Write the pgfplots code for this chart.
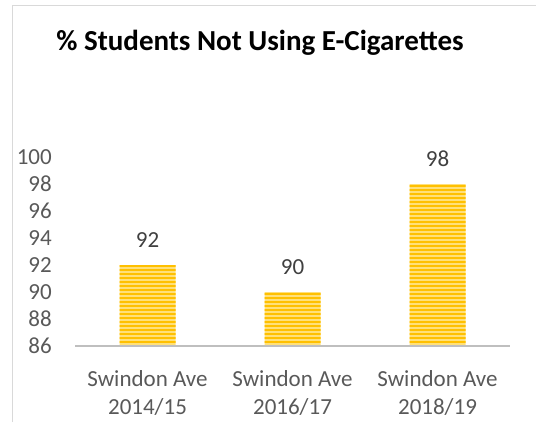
\documentclass[border=0pt]{standalone}
\usepackage{pgfplots}
\pgfplotsset{compat=1.18}
\usepackage{fontspec}
\setmainfont{Carlito}
\usetikzlibrary{patterns.meta}
\definecolor{barY}{HTML}{FFC000}
\definecolor{barL}{HTML}{FFE07A}
\definecolor{axgray}{HTML}{BFBFBF}
\definecolor{txtgray}{HTML}{595959}
\definecolor{lblgray}{HTML}{404040}
\definecolor{framegray}{HTML}{D9D9D9}
\begin{document}
\begin{tikzpicture}[x=1bp,y=1bp]
\path[use as bounding box] (0,0) rectangle (536,422);
\draw[framegray, line width=1.2bp] (12.5,0) -- (12.5,416.5) -- (540,416.5);
\node[anchor=base, font=\fontsize{29bp}{34bp}\selectfont\bfseries, inner sep=0pt] at (260,372) {\% Students Not Using E-Cigarettes};
\begin{axis}[
  at={(75bp,76bp)}, anchor=south west,
  scale only axis, width=435bp, height=189bp,
  xmin=-0.5, xmax=2.5, ymin=86, ymax=100,
  ytick={86,88,...,100},
  xtick={0,1,2},
  xticklabels={{Swindon Ave\\2014/15},{Swindon Ave\\2016/17},{Swindon Ave\\2018/19}},
  axis line style={draw=none},
  major tick length=0pt,
  tick style={draw=none},
  /pgf/number format/assume math mode=true,
  ticklabel style={font=\fontsize{23bp}{28bp}\selectfont, text=txtgray},
  yticklabel style={anchor=east, inner sep=0pt, xshift=-23bp},
  xticklabel style={align=center, anchor=north, inner sep=0pt, yshift=-24bp},
  ybar, bar width=56bp,
  nodes near coords,
  every node near coord/.append style={font=\fontsize{23bp}{28bp}\selectfont, text=lblgray, inner sep=0pt, anchor=south, yshift=17bp},
  clip=true,
]
\addplot[draw=none, fill=barL, postaction={pattern={Lines[angle=0,distance=4bp,line width=2bp]}, pattern color=barY}] coordinates {(0,92) (1,90) (2,98)};
\draw[axgray, line width=2.2bp] (rel axis cs:0,0) -- (rel axis cs:1,0);
\end{axis}
\end{tikzpicture}
\end{document}
